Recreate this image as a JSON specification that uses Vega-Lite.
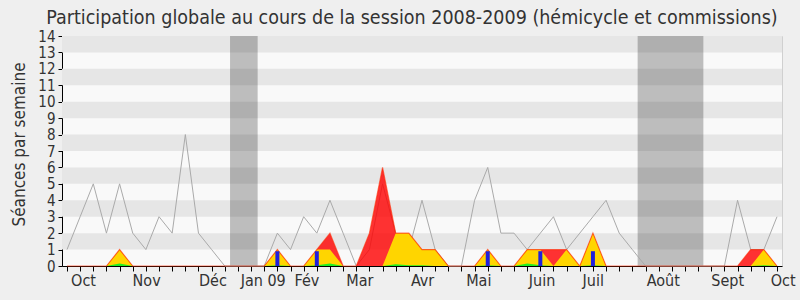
{
  "$schema": "https://vega.github.io/schema/vega-lite/v6.json",
  "width": 720,
  "height": 230,
  "autosize": {"type": "none"},
  "padding": {"left": 62, "top": 36, "right": 18, "bottom": 34},
  "background": "#efefef",
  "config": {
    "view": {"fill": "#f9f9f9", "stroke": "#d0d0d0"},
    "font": "DejaVu Sans Condensed, DejaVu Sans",
    "axis": {
      "labelFont": "DejaVu Sans Condensed, DejaVu Sans",
      "titleFont": "DejaVu Sans Condensed, DejaVu Sans",
      "labelColor": "#333333",
      "titleColor": "#333333",
      "domainColor": "#000000",
      "tickColor": "#000000",
      "grid": false,
      "labelFontSize": 16
    }
  },
  "title": {
    "text": "Participation globale au cours de la session 2008-2009 (hémicycle et commissions)",
    "font": "DejaVu Sans Condensed, DejaVu Sans",
    "fontSize": 19.5,
    "fontWeight": "normal",
    "color": "#333333",
    "anchor": "middle",
    "dx": -10,
    "dy": 5,
    "offset": 6
  },
  "resolve": {"axis": {"x": "independent", "y": "independent"}},
  "datasets": {
    "bandes": [
      {"bas": 1, "haut": 2}, {"bas": 3, "haut": 4}, {"bas": 5, "haut": 6},
      {"bas": 7, "haut": 8}, {"bas": 9, "haut": 10}, {"bas": 11, "haut": 12},
      {"bas": 13, "haut": 14}
    ],
    "vacances": [
      {"debut": 12.4, "fin": 14.5},
      {"debut": 43.4, "fin": 48.4}
    ],
    "semaines": [
      {"s": 0, "total": 1, "rouge": 0, "jaune": 0, "vert": 0},
      {"s": 1, "total": 3, "rouge": 0, "jaune": 0, "vert": 0},
      {"s": 2, "total": 5, "rouge": 0, "jaune": 0, "vert": 0},
      {"s": 3, "total": 2, "rouge": 0, "jaune": 0, "vert": 0},
      {"s": 4, "total": 5, "rouge": 1, "jaune": 1, "vert": 0.15},
      {"s": 5, "total": 2, "rouge": 0, "jaune": 0, "vert": 0},
      {"s": 6, "total": 1, "rouge": 0, "jaune": 0, "vert": 0},
      {"s": 7, "total": 3, "rouge": 0, "jaune": 0, "vert": 0},
      {"s": 8, "total": 2, "rouge": 0, "jaune": 0, "vert": 0},
      {"s": 9, "total": 8, "rouge": 0, "jaune": 0, "vert": 0},
      {"s": 10, "total": 2, "rouge": 0, "jaune": 0, "vert": 0},
      {"s": 11, "total": 1, "rouge": 0, "jaune": 0, "vert": 0},
      {"s": 12, "total": 0, "rouge": 0, "jaune": 0, "vert": 0},
      {"s": 13, "total": 0, "rouge": 0, "jaune": 0, "vert": 0},
      {"s": 14, "total": 0, "rouge": 0, "jaune": 0, "vert": 0},
      {"s": 15, "total": 0, "rouge": 0, "jaune": 0, "vert": 0},
      {"s": 16, "total": 2, "rouge": 1, "jaune": 1, "vert": 0.05},
      {"s": 17, "total": 1, "rouge": 0, "jaune": 0, "vert": 0},
      {"s": 18, "total": 3, "rouge": 0, "jaune": 0, "vert": 0},
      {"s": 19, "total": 2, "rouge": 1, "jaune": 1, "vert": 0.05},
      {"s": 20, "total": 4, "rouge": 2, "jaune": 1, "vert": 0.15},
      {"s": 21, "total": 2, "rouge": 0, "jaune": 0, "vert": 0},
      {"s": 22, "total": 0, "rouge": 0, "jaune": 0, "vert": 0},
      {"s": 23, "total": 1, "rouge": 2, "jaune": 0, "vert": 0},
      {"s": 24, "total": 5, "rouge": 6, "jaune": 0, "vert": 0},
      {"s": 25, "total": 2, "rouge": 2, "jaune": 2, "vert": 0.1},
      {"s": 26, "total": 1, "rouge": 2, "jaune": 2, "vert": 0.05},
      {"s": 27, "total": 4, "rouge": 1, "jaune": 1, "vert": 0.05},
      {"s": 28, "total": 1, "rouge": 1, "jaune": 1, "vert": 0},
      {"s": 29, "total": 0, "rouge": 0, "jaune": 0, "vert": 0},
      {"s": 30, "total": 0, "rouge": 0, "jaune": 0, "vert": 0},
      {"s": 31, "total": 4, "rouge": 0, "jaune": 0, "vert": 0},
      {"s": 32, "total": 6, "rouge": 1, "jaune": 1, "vert": 0.05},
      {"s": 33, "total": 2, "rouge": 0, "jaune": 0, "vert": 0},
      {"s": 34, "total": 2, "rouge": 0, "jaune": 0, "vert": 0},
      {"s": 35, "total": 1, "rouge": 1, "jaune": 1, "vert": 0.15},
      {"s": 36, "total": 2, "rouge": 1, "jaune": 1, "vert": 0.05},
      {"s": 37, "total": 3, "rouge": 1, "jaune": 0, "vert": 0},
      {"s": 38, "total": 1, "rouge": 1, "jaune": 1, "vert": 0},
      {"s": 39, "total": 2, "rouge": 0, "jaune": 0, "vert": 0},
      {"s": 40, "total": 3, "rouge": 2, "jaune": 2, "vert": 0.05},
      {"s": 41, "total": 4, "rouge": 0, "jaune": 0, "vert": 0},
      {"s": 42, "total": 2, "rouge": 0, "jaune": 0, "vert": 0},
      {"s": 43, "total": 1, "rouge": 0, "jaune": 0, "vert": 0},
      {"s": 44, "total": 0, "rouge": 0, "jaune": 0, "vert": 0},
      {"s": 45, "total": 0, "rouge": 0, "jaune": 0, "vert": 0},
      {"s": 46, "total": 0, "rouge": 0, "jaune": 0, "vert": 0},
      {"s": 47, "total": 0, "rouge": 0, "jaune": 0, "vert": 0},
      {"s": 48, "total": 0, "rouge": 0, "jaune": 0, "vert": 0},
      {"s": 49, "total": 0, "rouge": 0, "jaune": 0, "vert": 0},
      {"s": 50, "total": 0, "rouge": 0, "jaune": 0, "vert": 0},
      {"s": 51, "total": 4, "rouge": 0, "jaune": 0, "vert": 0},
      {"s": 52, "total": 1, "rouge": 1, "jaune": 0, "vert": 0},
      {"s": 53, "total": 1, "rouge": 1, "jaune": 1, "vert": 0.05},
      {"s": 54, "total": 3, "rouge": 0, "jaune": 0, "vert": 0}
    ],
    "questions": [
      {"s": 16, "q": 0.9}, {"s": 19, "q": 0.9}, {"s": 32, "q": 0.9},
      {"s": 36, "q": 0.9}, {"s": 40, "q": 0.9}
    ]
  },
  "layer": [
    {
      "data": {"name": "bandes"},
      "mark": {"type": "rect", "color": "#e6e6e6"},
      "encoding": {
        "y": {
          "field": "bas", "type": "quantitative",
          "scale": {"domain": [0, 14], "nice": false, "zero": true},
          "axis": {
            "title": "Séances par semaine",
            "orient": "left",
            "values": [0,1,2,3,4,5,6,7,8,9,10,11,12,13,14],
            "labelOverlap": false,
            "labelFontSize": 15,
            "tickSize": 4,
            "labelPadding": 3,
            "titleFontSize": 17,
            "titleFontWeight": "normal",
            "titleAngle": -90,
            "titleAlign": "center",
            "titleBaseline": "alphabetic",
            "titleX": -38,
            "titleY": 108
          }
        },
        "y2": {"field": "haut"}
      }
    },
    {
      "data": {"name": "vacances"},
      "mark": {"type": "rect", "color": "#000000", "opacity": 0.24},
      "encoding": {
        "x": {
          "field": "debut", "type": "quantitative",
          "scale": {"domain": [0, 54], "nice": false, "zero": false},
          "axis": {
            "title": null,
            "orient": "bottom",
            "values": [0,1,2,3,4,5,6,7,8,9,10,11,12,13,14,15,16,17,18,19,20,21,22,23,24,25,26,27,28,29,30,31,32,33,34,35,36,37,38,39,40,41,42,43,44,45,46,47,48,49,50,51,52,53,54],
            "labels": false,
            "tickSize": 5
          }
        },
        "x2": {"field": "fin"}
      }
    },
    {
      "data": {"name": "semaines"},
      "mark": {"type": "line", "color": "#aaaaaa", "strokeWidth": 1},
      "encoding": {
        "x": {
          "field": "s", "type": "quantitative",
          "axis": {
            "title": null,
            "orient": "bottom",
            "domain": false,
            "ticks": false,
            "values": [0.27, 4.95, 10.0, 13.17, 17.27, 21.21, 26.12, 30.32, 35.09, 39.17, 44.05, 48.97, 53.48],
            "labelExpr": "datum.value == 0.27 ? 'Oct' : datum.value == 4.95 ? 'Nov' : datum.value == 10 ? 'Déc' : datum.value == 13.17 ? 'Jan 09' : datum.value == 17.27 ? 'Fév' : datum.value == 21.21 ? 'Mar' : datum.value == 26.12 ? 'Avr' : datum.value == 30.32 ? 'Mai' : datum.value == 35.09 ? 'Juin' : datum.value == 39.17 ? 'Juil' : datum.value == 44.05 ? 'Août' : datum.value == 48.97 ? 'Sept' : 'Oct'",
            "labelAlign": "left",
            "labelOverlap": false,
            "labelBound": false,
            "labelFlush": false,
            "labelPadding": 6
          }
        },
        "y": {"field": "total", "type": "quantitative", "axis": null}
      }
    },
    {
      "data": {"name": "semaines"},
      "mark": {"type": "area", "color": "#ff0000", "opacity": 0.8},
      "encoding": {
        "x": {"field": "s", "type": "quantitative", "axis": null},
        "y": {"field": "rouge", "type": "quantitative", "stack": null, "axis": null}
      }
    },
    {
      "data": {"name": "semaines"},
      "mark": {"type": "area", "color": "#ffd500", "opacity": 1},
      "encoding": {
        "x": {"field": "s", "type": "quantitative", "axis": null},
        "y": {"field": "jaune", "type": "quantitative", "stack": null, "axis": null}
      }
    },
    {
      "data": {"name": "semaines"},
      "mark": {"type": "area", "color": "#22ee22", "opacity": 1},
      "encoding": {
        "x": {"field": "s", "type": "quantitative", "axis": null},
        "y": {"field": "vert", "type": "quantitative", "stack": null, "axis": null}
      }
    },
    {
      "data": {"name": "semaines"},
      "mark": {"type": "line", "color": "#ff2a00", "strokeWidth": 1.2, "opacity": 0.6},
      "encoding": {
        "x": {"field": "s", "type": "quantitative", "axis": null},
        "y": {"field": "rouge", "type": "quantitative", "axis": null}
      }
    },
    {
      "data": {"name": "questions"},
      "mark": {"type": "bar", "color": "#2020dd", "size": 4},
      "encoding": {
        "x": {"field": "s", "type": "quantitative", "axis": null},
        "y": {"field": "q", "type": "quantitative", "axis": null}
      }
    }
  ]
}
